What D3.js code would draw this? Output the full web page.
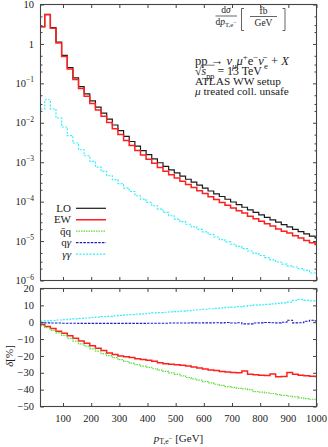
<!DOCTYPE html>
<html><head><meta charset="utf-8">
<script src="https://cdn.jsdelivr.net/npm/d3@7"></script>
<style>
body{margin:0;background:#fff}
svg{display:block}
text{font-family:"Liberation Serif","DejaVu Serif",serif;fill:#222}
</style>
</head><body>
<svg id="c" width="328" height="447"></svg>
<script>
// ---- data ----
const binEdges = [20,35,55,75,95,115,135,155,175,195,215,235,255,275,295,315,335,355,375,395,415,435,455,475,495,515,535,555,575,595,615,635,655,675,695,715,735,755,775,795,815,835,855,875,895,915,935,955,975,995,1000];
const loXsec = [2.75,5.6,2.6,1.12,0.51,0.25,0.138,0.083,0.054,0.036,0.025,0.0175,0.0124,0.0088,0.0063,0.0045,0.00335,0.00255,0.00197,0.00155,0.00122,0.00097,0.00078,0.000643,0.000534,0.000443,0.00037,0.000311,0.000261,0.000221,0.000186,0.000158,0.000135,0.000115,0.000098,0.000084,0.000072,0.000062,0.0000535,0.0000463,0.00004,0.0000346,0.0000301,0.0000262,0.0000228,0.0000198,0.0000173,0.0000152,0.0000133,0.000012];
const ewXsec = [2.71,5.46,2.50,1.06,0.477,0.230,0.125,0.0737,0.0473,0.0310,0.0211,0.01456,0.01013,0.00711,0.00504,0.00357,0.00264,0.00199,0.00152,0.00119,0.000935,0.000737,0.000587,0.000482,0.000399,0.000330,0.000274,0.000229,0.000190,0.000160,0.000133,0.000113,0.0000956,0.0000810,0.0000688,0.0000588,0.0000512,0.0000429,0.0000368,0.0000317,0.0000274,0.0000240,0.0000203,0.0000178,0.0000160,0.0000137,0.0000119,0.0000104,0.00000904,0.00000814];
const aaXsec = [0.0224,0.0384,0.0224,0.01324,0.00782,0.00471,0.00307,0.00207,0.00146,0.00105,0.000755,0.000584,0.000454,0.000360,0.000285,0.000221,0.000181,0.000141,0.000116,0.0000955,0.0000787,0.0000649,0.0000532,0.0000439,0.0000362,0.000031,0.0000267,0.000023,0.0000198,0.0000171,0.0000147,0.0000127,0.0000109,0.0000095,0.0000083,0.0000073,0.0000064,0.0000056,0.0000049,0.0000043,0.0000038,0.00000335,0.00000295,0.0000026,0.00000235,0.0000022,0.000002,0.0000018,0.00000155,0.00000148];
const ewDelta = [-1.3,-2.5,-3.8,-5.3,-6.5,-8.0,-9.5,-11.2,-12.5,-14.0,-15.5,-16.8,-18.3,-19.2,-20.0,-20.5,-21.0,-21.6,-22.1,-22.6,-23.2,-24.0,-24.7,-25.0,-25.2,-25.6,-26.0,-26.5,-27.2,-27.8,-28.3,-28.7,-29.2,-29.6,-29.8,-30.0,-28.9,-30.8,-31.2,-31.5,-31.6,-30.7,-32.4,-32.2,-29.9,-30.9,-31.5,-31.8,-32.0,-32.2];
const qqDelta = [-2.0,-3.2,-4.8,-6.3,-7.8,-9.6,-11.2,-12.8,-14.2,-15.8,-17.2,-18.6,-19.8,-21.0,-22.2,-23.3,-24.3,-25.2,-26.0,-26.8,-27.6,-28.4,-29.2,-30.0,-31.0,-31.8,-32.8,-33.6,-34.4,-35.2,-36.0,-36.8,-37.5,-38.2,-38.7,-39.2,-39.6,-40.0,-41.2,-41.5,-41.9,-42.3,-42.9,-43.4,-43.8,-44.3,-44.9,-45.3,-45.7,-46.0];
const qaDelta = [-0.3,-0.4,-0.5,-0.5,-0.6,-0.6,-0.6,-0.7,-0.7,-0.7,-0.7,-0.7,-0.7,-0.7,-0.7,-0.7,-0.7,-0.7,-0.7,-0.6,-0.6,-0.6,-0.6,-0.5,-0.5,-0.5,-0.5,-0.4,-0.5,-0.4,-0.4,-0.3,-0.4,-0.2,-0.5,-0.3,-1.0,-1.0,-0.5,-0.4,-0.2,-0.3,-0.4,0.0,1.2,-0.4,-0.3,0.6,1.2,0.8];
const aaDelta = [0.7,0.8,1.0,1.3,1.5,1.8,2.0,2.3,2.5,2.8,3.0,3.3,3.5,3.8,4.0,4.3,4.5,4.8,5.0,5.3,5.5,5.7,5.9,6.1,6.3,6.6,6.9,7.1,7.4,7.7,8.0,8.2,8.5,8.8,9.0,9.3,9.6,9.8,10.1,10.3,10.6,10.9,11.2,11.5,11.9,12.9,13.5,13.0,12.6,12.5];
const topYTicks = [10,1,0.1,0.01,0.001,0.0001,0.00001,0.000001];
const topYExp = [null,null,"−1","−2","−3","−4","−5","−6"];
const topYBase = ["10","1","10","10","10","10","10","10"];
const minorMult = [2,3,5];
const xTicks = [100,200,300,400,500,600,700,800,900,1000];
const botYTicks = [20,10,0,-10,-20,-30,-40,-50];
const legendNames = [[{t:"LO"}],[{t:"EW"}],[{t:"q\u0304q"}],[{t:"q"},{t:"γ",it:true}],[{t:"γγ",it:true}]];

// ---- layout ----
const svg = d3.select("#c");
const L=40.5,R=316.5,T1=4.5,B1=280.5,T2=288.5,B2=406.5;
const FR="#444";
const x = d3.scaleLinear().domain([20,1000]).range([L,R]);
const yT = d3.scaleLog().domain([1e-6,10]).range([B1,T1]);
const yB = d3.scaleLinear().domain([-50,20]).range([B2,T2]);

const defs = svg.append("defs");
defs.append("clipPath").attr("id","cp1").append("rect").attr("x",L).attr("y",T1).attr("width",R-L).attr("height",B1-T1);
defs.append("clipPath").attr("id","cp2").append("rect").attr("x",L).attr("y",T2).attr("width",R-L).attr("height",B2-T2);

const styles = [
  {c:"#1a1a1a",w:1.2,d:null},
  {c:"#ff1f1f",w:1.5,d:null},
  {c:"#5ede3a",w:1.2,d:"1.5,1"},
  {c:"#1c1cc8",w:1.1,d:"2.5,1.2"},
  {c:"#33eefc",w:1.2,d:"2,1.4"}
];

function stepPts(vals){
  const p = vals.map((v,i)=>[binEdges[i],v]);
  p.push([binEdges[vals.length],vals[vals.length-1]]);
  return p;
}
const lineT = d3.line().x(d=>x(d[0])).y(d=>yT(d[1])).curve(d3.curveStepAfter);
const lineB = d3.line().x(d=>x(d[0])).y(d=>yB(d[1])).curve(d3.curveStepAfter);

function draw(g, gen, vals, s){
  g.append("path").attr("d",gen(stepPts(vals))).attr("fill","none")
   .attr("stroke",s.c).attr("stroke-width",s.w).attr("stroke-dasharray",s.d);
}
const g1 = svg.append("g").attr("clip-path","url(#cp1)");
draw(g1,lineT,aaXsec,styles[4]);
draw(g1,lineT,loXsec,styles[0]);
draw(g1,lineT,ewXsec,styles[1]);

const g2 = svg.append("g").attr("clip-path","url(#cp2)");
draw(g2,lineB,ewDelta,styles[1]);
draw(g2,lineB,qqDelta,styles[2]);
draw(g2,lineB,aaDelta,styles[4]);
draw(g2,lineB,qaDelta,styles[3]);

// ---- axes ----
function ax(gen, tr){
  const g = svg.append("g").attr("transform",tr).call(gen);
  g.select(".domain").remove();
  g.selectAll("line").attr("stroke",FR).attr("stroke-width",1);
  g.selectAll("text").remove();
  return g;
}
const minors=[];
topYTicks.slice(1).forEach(d=>minorMult.forEach(m=>minors.push(d*m)));
ax(d3.axisLeft(yT).tickValues(topYTicks).tickSizeInner(-3.5).tickSizeOuter(0),`translate(${L},0)`);
ax(d3.axisRight(yT).tickValues(topYTicks).tickSizeInner(-3.5).tickSizeOuter(0),`translate(${R},0)`);
ax(d3.axisLeft(yT).tickValues(minors).tickSizeInner(-2).tickSizeOuter(0),`translate(${L},0)`);
ax(d3.axisRight(yT).tickValues(minors).tickSizeInner(-2).tickSizeOuter(0),`translate(${R},0)`);
ax(d3.axisBottom(x).tickValues(xTicks).tickSizeInner(-3.5).tickSizeOuter(0),`translate(0,${B1})`);
ax(d3.axisTop(x).tickValues(xTicks).tickSizeInner(-3.5).tickSizeOuter(0),`translate(0,${T1})`);
ax(d3.axisLeft(yB).tickValues(botYTicks).tickSizeInner(-3.5).tickSizeOuter(0),`translate(${L},0)`);
ax(d3.axisRight(yB).tickValues(botYTicks).tickSizeInner(-3.5).tickSizeOuter(0),`translate(${R},0)`);
ax(d3.axisBottom(x).tickValues(xTicks).tickSizeInner(-3.5).tickSizeOuter(0),`translate(0,${B2})`);
ax(d3.axisTop(x).tickValues(xTicks).tickSizeInner(-3.5).tickSizeOuter(0),`translate(0,${T2})`);

svg.append("rect").attr("x",L).attr("y",T1).attr("width",R-L).attr("height",B1-T1).attr("fill","none").attr("stroke",FR).attr("stroke-width",1.1);
svg.append("rect").attr("x",L).attr("y",T2).attr("width",R-L).attr("height",B2-T2).attr("fill","none").attr("stroke",FR).attr("stroke-width",1.1);

// tick labels
const FS=10.5;
topYTicks.forEach((v,i)=>{
  const t = svg.append("text").attr("x",34).attr("y",yT(v)+3.6).attr("text-anchor","end").attr("font-size",FS);
  t.append("tspan").text(topYBase[i]);
  if(topYExp[i]) t.append("tspan").attr("dy",-4.5).attr("font-size",7.5).text(topYExp[i]);
});
botYTicks.forEach(v=>{
  svg.append("text").attr("x",34).attr("y",yB(v)+3.6).attr("text-anchor","end").attr("font-size",FS)
    .text(v<0?"−"+(-v):String(v));
});
xTicks.forEach(v=>{
  svg.append("text").attr("x",x(v)).attr("y",421.5).attr("text-anchor","middle").attr("font-size",FS).text(String(v));
});

// rich text helper: parts {t, it, sh (em shift, + = down), sc (scale)}
function rich(xp, yp, fs, parts, anchor){
  const t = svg.append("text").attr("x",xp).attr("y",yp).attr("font-size",fs).attr("text-anchor",anchor||"start");
  let cur=0;
  parts.forEach(p=>{
    const sh=(p.sh||0)*fs;
    const ts=t.append("tspan").text(p.t).attr("dy",sh-cur);
    if(p.sc) ts.attr("font-size",fs*p.sc);
    if(p.it) ts.attr("font-style","italic");
    cur=sh;
  });
  return t;
}
function fitRich(xp, yp, fs, parts, targetW){
  let t = rich(xp,yp,fs,parts);
  const w = t.node().getComputedTextLength();
  if(w>0){
    const f = Math.max(0.8, Math.min(1.25, targetW/w));
    t.remove();
    t = rich(xp,yp,fs*f,parts);
  }
  return t;
}

// axis titles
rich(178.5,441.5,11,[{t:"p",it:true},{t:"T,e",sh:0.25,sc:0.7},{t:"−",sh:-0.08,sc:0.6},{t:" [GeV]",sh:0}],"middle");
svg.append("g").attr("transform","translate(12.5,356) rotate(-90)")
  .append("text").attr("text-anchor","middle").attr("font-size",11)
  .call(t=>{t.append("tspan").attr("font-style","italic").text("δ");t.append("tspan").text("[%]");});

// y-title fraction
rich(226,13,9.5,[{t:"d"},{t:"σ",it:true}],"middle");
svg.append("line").attr("x1",215.5).attr("x2",237).attr("y1",16).attr("y2",16).attr("stroke","#222").attr("stroke-width",0.7);
rich(226,24.5,9.5,[{t:"d"},{t:"p",it:true},{t:"T,e",sh:0.3,sc:0.7},{t:"−",sh:-0.05,sc:0.6}],"middle");
svg.append("path").attr("d","M244,8.5H241.5V30.5H244").attr("fill","none").attr("stroke","#222").attr("stroke-width",0.7);
svg.append("path").attr("d","M282.5,8.5H285V30.5H282.5").attr("fill","none").attr("stroke","#222").attr("stroke-width",0.7);
rich(263.5,14,9.5,[{t:"fb"}],"middle");
svg.append("line").attr("x1",250).attr("x2",277).attr("y1",16.5).attr("y2",16.5).attr("stroke","#222").attr("stroke-width",0.7);
rich(263.5,25.5,9.5,[{t:"GeV"}],"middle");

// process annotations
const AX=195, AF=10.5;
fitRich(AX,65,AF,[{t:"pp → "},{t:"ν",it:true},{t:"μ",it:true,sh:0.3,sc:0.7},{t:"μ",it:true,sh:0},{t:"+",sh:-0.4,sc:0.7},{t:"e",sh:0},{t:"−",sh:-0.4,sc:0.7},{t:"ν\u0304",it:true,sh:0},{t:"e",sh:0.3,sc:0.7},{t:" + ",sh:0},{t:"X",it:true}],94);
const sq = fitRich(AX,75,AF,[{t:"√"},{t:"s",it:true},{t:"pp",sh:0.3,sc:0.7},{t:" = 13 TeV",sh:0}],67);
{
  const n = sq.node();
  const e0 = n.getExtentOfChar(0), e3 = n.getExtentOfChar(3);
  svg.append("line").attr("x1",e0.x+e0.width-0.8).attr("x2",e3.x+e3.width+0.3)
    .attr("y1",e0.y+1.2).attr("y2",e0.y+1.2).attr("stroke","#222").attr("stroke-width",0.6);
}
fitRich(AX,85,AF,[{t:"ATLAS WW setup"}],86);
fitRich(AX,94.5,AF,[{t:"μ",it:true},{t:" treated coll. unsafe"}],94);

// legend
legendNames.forEach((parts,i)=>{
  const yy = 208.3 + i*11.45;
  rich(71,yy+3.6,11,parts,"end");
  const s=styles[i];
  svg.append("line").attr("x1",76).attr("x2",106).attr("y1",yy).attr("y2",yy)
    .attr("stroke",s.c).attr("stroke-width",s.w).attr("stroke-dasharray",s.d);
});
</script>
</body></html>
